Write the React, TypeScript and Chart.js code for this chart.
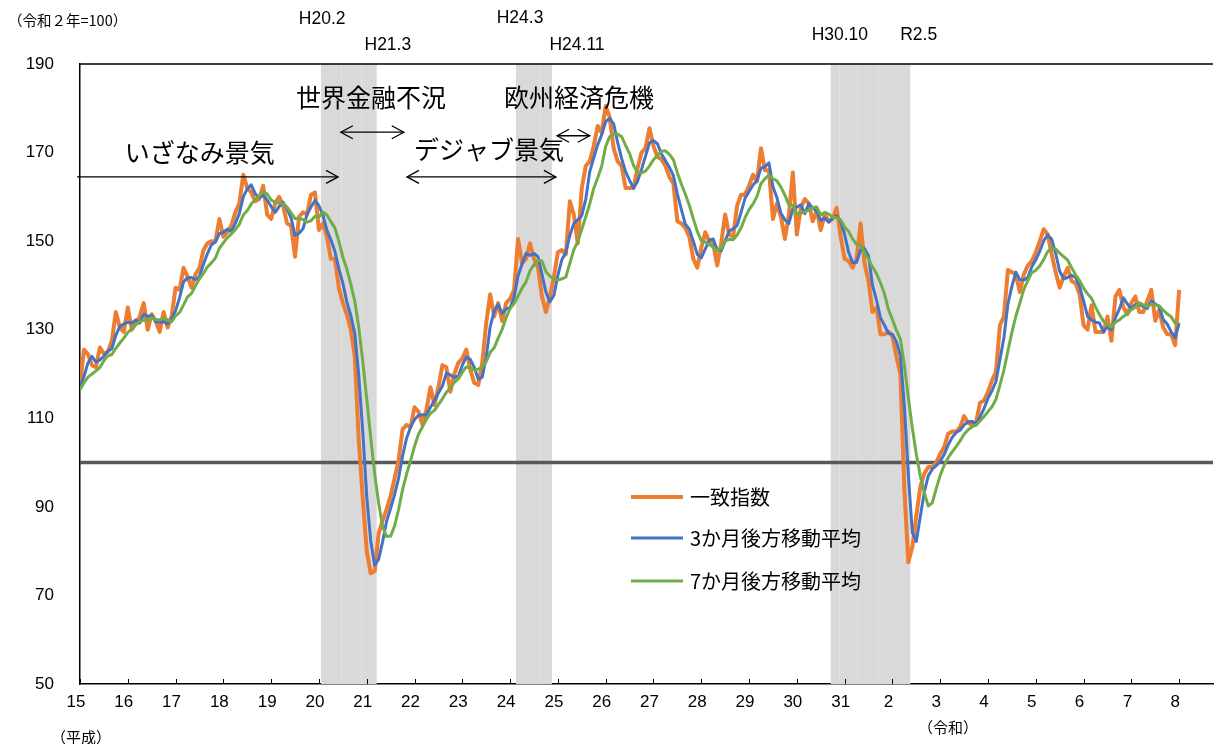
import React, { useEffect, useRef } from "react";
import { Chart, registerables } from "chart.js";

Chart.register(...registerables);

// Monthly data, index 0 = 平成15年1月 (2003-01) ... 276 = 令和8年1月
const ci: number[] = [
  117.5, 125.5, 124.5, 122, 121.5, 126, 124.5, 125, 127.5, 134, 130.5, 129.5,
  135, 130, 131.5, 133, 136, 130, 133.5, 132, 129.5, 134, 130.5, 133,
  139.5, 139, 144, 142, 139.5, 142.5, 144, 148, 149.5, 150, 150, 155,
  151, 152, 153.5, 156.5, 158.5, 165, 162, 161, 159, 159.5, 162.5, 156,
  155, 158.5, 160, 158, 154, 153.5, 146.5, 155.5, 156.5, 156, 160.5, 161,
  152.5, 154, 151, 146, 146, 139.5, 136, 133.5, 130, 124, 105, 92,
  80, 75, 75.5, 84, 87, 89.5, 92.5, 96.5, 100.5, 107.5, 108.5, 108,
  112.5, 111.5, 108.5, 112, 117, 113, 117, 122, 121.5, 116, 120, 122.5,
  123.5, 125.5, 121, 118, 117.5, 122.5, 131.5, 138, 133, 136, 132, 136,
  137, 139, 150.5, 145, 146, 149.5, 146, 144, 137.5, 134, 137.5, 142,
  147.5, 148, 147, 159, 156, 149.5, 162, 167, 168, 171.5, 176, 174.5,
  180.5, 178, 171, 168, 167, 162, 162, 162, 166.5, 170, 171, 175.5,
  171.5, 169, 168.5, 167, 164.5, 163, 154.5, 154, 153, 151, 146, 144,
  148.5, 152, 150, 149.5, 144.5, 149.5, 156, 151.5, 151, 158, 160.5, 160.5,
  162.5, 165, 163.5, 171, 166, 166, 155, 158.5, 155.5, 150.5, 156, 165.5,
  151.5, 157.5, 159.5, 158.5, 154.5, 157, 152.5, 156, 154.5, 155, 157.5, 151,
  146, 145.5, 144, 146, 154, 145, 141, 134, 135, 129, 129, 129.5,
  128.5, 124, 120, 94, 77.5, 81, 88, 94.5, 97.5, 99, 99, 100,
  102, 103.5, 106.5, 107, 107, 108, 110.5, 109, 108.5, 109, 113.5, 114,
  116, 118.5, 120.5, 131, 133, 143.5, 143, 142.5, 138.5, 142.5, 144.5, 145.5,
  147.5, 150, 152.7, 151.5, 147, 143, 139.5, 142, 144, 141, 140.5, 138,
  131, 130, 135.5, 129.5, 129.5, 129.5, 133, 127.5, 137.5, 139, 135, 133.5,
  136, 137.5, 134, 134, 136.5, 139, 132, 134.5, 130.5, 129, 129, 126.5,
  139,
];

const ma3: number[] = [
  117, 119.5, 122.5, 124, 122.7, 123.2, 124, 125.2, 125.7, 128.8, 130.7, 131.3,
  131.7, 131.5, 132.2, 131.5, 133.5, 133, 133.2, 131.8, 131.7, 131.8, 131.3, 132.5,
  134.3, 137.2, 140.8, 141.7, 141.8, 141.3, 142, 144.8, 147.2, 149.2, 149.8, 151.7,
  152, 152.7, 152.2, 154, 156.2, 160, 161.8, 162.7, 160.7, 159.8, 160.3, 159.3,
  157.8, 156.5, 157.8, 158.8, 157.3, 155.2, 151.3, 151.8, 152.8, 156, 157.7, 159.2,
  158, 155.8, 152.5, 150.3, 147.7, 143.8, 140.5, 136.3, 133.2, 129.2, 119.7, 107,
  92.3, 82.3, 76.8, 78.2, 82.2, 86.8, 89.7, 92.8, 96.5, 101.5, 105.5, 108,
  109.7, 110.7, 110.8, 110.7, 112.5, 114, 115.7, 117.3, 120.2, 119.8, 119.2, 119.5,
  122, 123.8, 123.3, 121.5, 118.8, 119.3, 123.8, 130.7, 134.2, 135.7, 133.7, 134.7,
  135, 137.3, 142.2, 144.8, 147.2, 146.8, 147.2, 146.5, 142.5, 138.5, 136.3, 137.8,
  142.3, 145.8, 147.5, 151.3, 154, 154.8, 155.8, 159.5, 165.7, 168.8, 171.8, 174,
  177, 177.7, 176.5, 172.3, 168.7, 165.7, 163.7, 162, 163.5, 166.2, 169.2, 172.2,
  172.7, 172, 169.7, 168.2, 166.7, 164.8, 160.7, 157.2, 153.8, 152.7, 150, 147,
  146.2, 148.2, 150.2, 150.5, 148, 147.8, 150, 152.3, 152.8, 153.5, 156.5, 159.7,
  161.2, 162.7, 163.7, 166.5, 166.8, 167.7, 162.3, 159.8, 156.3, 154.8, 154, 157.3,
  157.7, 158.2, 156.2, 158.5, 157.5, 156.7, 154.7, 155.2, 154.3, 155.2, 155.7, 154.5,
  151.5, 147.5, 145.2, 145.2, 148, 148.3, 146.7, 140, 136.7, 132.7, 131, 129.2,
  129, 127.3, 124.2, 112.7, 97.2, 84.2, 82.2, 87.8, 93.3, 97, 98.5, 99.3,
  100.3, 101.8, 104, 105.7, 106.8, 107.3, 108.5, 109.2, 109.3, 108.8, 110.3, 112.2,
  114.5, 116.2, 118.3, 123.3, 128.2, 135.8, 139.8, 143, 141.3, 141.2, 141.8, 144.2,
  145.8, 147.7, 150.1, 151.4, 150.4, 147.2, 143.2, 141.5, 141.8, 142.3, 141.8, 139.8,
  136.5, 133, 132.2, 131.7, 131.5, 129.5, 130.7, 130, 132.7, 134.7, 137.2, 135.8,
  134.8, 135.7, 135.8, 135.2, 134.8, 136.5, 135.8, 135.2, 132.3, 131.3, 129.5, 128.2,
  131.5,
];

const ma7: number[] = [
  116.5, 118, 119.3, 120, 120.7, 121.5, 123, 124.1, 124.4, 125.8, 127, 128.1,
  129.4, 130.2, 131.1, 131.9, 132.2, 132.1, 132.7, 132.3, 132.2, 132.6, 132.2, 131.8,
  133.1, 133.9, 135.6, 137.4, 138.2, 139.9, 141.5, 142.7, 144.2, 145.1, 146.2, 148.4,
  149.6, 150.8, 151.6, 152.6, 153.8, 155.9, 156.9, 158.4, 159.4, 160.2, 161.1, 160.7,
  159.3, 158.8, 158.6, 158.5, 157.7, 156.4, 155.1, 155.1, 154.9, 154.3, 154.6, 155.6,
  155.5, 156.6, 155.9, 154.4, 153, 150, 146.4, 143.7, 140.3, 136.4, 130.6, 122.9,
  114.4, 105.6, 97.4, 90.8, 85.5, 83.3, 83.4, 85.7, 89.4, 93.9, 97.4, 100.4,
  103.7, 106.4, 108.1, 109.8, 111.1, 111.8, 113.1, 114.4, 115.9, 116.9, 118.1, 118.9,
  120.4, 121.6, 121.4, 120.9, 121.1, 121.5, 122.8, 124.9, 125.9, 128.1, 130.1, 132.7,
  134.8, 135.9, 137.6, 139.4, 140.8, 143.3, 144.7, 145.7, 145.5, 143.1, 142.1, 141.5,
  141.2, 141.5, 141.9, 145, 148.1, 149.9, 152.7, 155.5, 158.4, 161.9, 164.3, 166.9,
  171.4, 173.6, 174.2, 174.2, 173.6, 171.6, 169.8, 167.1, 165.5, 165.4, 165.8, 167,
  168.4, 169.4, 170.3, 170.4, 169.6, 168.4, 165.4, 162.9, 160.6, 158.1, 155.1, 152.2,
  150.1, 149.8, 149.2, 148.7, 147.8, 148.3, 150, 150.4, 150.3, 151.4, 153, 155.3,
  157.1, 158.4, 160.1, 163, 164.1, 164.9, 164.1, 163.6, 162.2, 160.4, 158.2, 158.1,
  156.1, 156.4, 156.6, 157, 157.6, 157.7, 155.9, 156.5, 156.1, 155.4, 155.3, 154.8,
  153.2, 152.2, 150.5, 149.3, 149.1, 147.4, 145.9, 144.2, 142.7, 140.6, 138.1, 134.6,
  132.3, 129.9, 127.9, 122, 114.6, 107.8, 101.9, 97, 93.2, 90.2, 90.9, 94.1,
  97.1, 99.4, 101.1, 102.4, 103.6, 104.9, 106.4, 107.4, 108.1, 108.4, 109.4, 110.4,
  111.5, 112.6, 114.3, 117.5, 120.9, 125.2, 129.4, 133.1, 136, 139.1, 141.1, 142.9,
  143.4, 144.4, 145.9, 147.7, 148.4, 148.2, 147.3, 146.5, 145.7, 144, 142.4, 141.1,
  139.4, 138.1, 137.1, 135.1, 133.4, 131.9, 131.1, 130.6, 131.7, 132.2, 133, 133.6,
  134.5, 135.1, 136.1, 135.6, 135.2, 135.8, 135.6, 135.4, 134.4, 133.6, 132.9, 131.5,
  131.5,
];

const seriesNames = ["一致指数", "3か月後方移動平均", "7か月後方移動平均"];
const seriesColors = ["#ED7D31", "#4472C4", "#70AD47"];

// x tick labels (each January)
const yearTickMonths: number[] = Array.from({ length: 24 }, (_, i) => i * 12);
const yearLabels: string[] = [
  "15", "16", "17", "18", "19", "20", "21", "22", "23", "24", "25", "26",
  "27", "28", "29", "30", "31", "2", "3", "4", "5", "6", "7", "8",
];
const yTicks: number[] = [50, 70, 90, 110, 130, 150, 170, 190];

// recession shading (month index of start/end)
const bandStart: number[] = [61, 110, 189];
const bandEnd: number[] = [74, 118, 208];
const bandInnerLines: number[] = [65.5, 70.5, 115.5, 190.6, 195.2, 200.5];

// labels above the chart: text, month, pixel y
const topLabelText: string[] = ["H20.2", "H21.3", "H24.3", "H24.11", "H30.10", "R2.5"];
const topLabelMonth: number[] = [60.8, 77.3, 110.5, 124.8, 190.8, 210.6];
const topLabelY: number[] = [19, 45, 18, 45, 35, 35];

// economic periods: name, text position (month, value), arrow (from, to, value, double)
const periodNames: string[] = ["いざなみ景気", "世界金融不況", "デジャブ景気", "欧州経済危機"];
const periodTextM: number[] = [30.1, 73.1, 102.7, 125.3];
const periodTextV: number[] = [170.1, 182.5, 170.6, 182.5];
const arrowFrom: number[] = [-0.75, 65.5, 82.1, 119.8];
const arrowTo: number[] = [64.8, 81.3, 119.5, 128];
const arrowV: number[] = [164.5, 174.6, 164.5, 173.8];
const arrowDouble: boolean[] = [false, true, true, true];

const NUM_FONT = "'Liberation Sans', Arial, sans-serif";
const JP_FONT = "'Noto Sans CJK JP', sans-serif";

function drawHead(ctx: CanvasRenderingContext2D, tipX: number, y: number, dir: number) {
  ctx.beginPath();
  ctx.moveTo(tipX - dir * 12, y - 6.5);
  ctx.lineTo(tipX, y);
  ctx.lineTo(tipX - dir * 12, y + 6.5);
  ctx.stroke();
}

const decorPlugin = {
  id: "decor",
  beforeDatasetsDraw(chart: any) {
    const { ctx, chartArea, scales } = chart;
    const x = scales.x;
    const y = scales.y;
    ctx.save();
    ctx.fillStyle = "#d9d9d9";
    bandStart.forEach((s, i) => {
      const x0 = x.getPixelForValue(s - 0.5);
      const x1 = x.getPixelForValue(bandEnd[i] + 0.5);
      ctx.fillRect(x0, chartArea.top, x1 - x0, chartArea.bottom - chartArea.top);
    });
    ctx.strokeStyle = "#e1e1e1";
    ctx.lineWidth = 1;
    bandInnerLines.forEach((m) => {
      const px = Math.round(x.getPixelForValue(m)) + 0.5;
      ctx.beginPath();
      ctx.moveTo(px, chartArea.top);
      ctx.lineTo(px, chartArea.bottom);
      ctx.stroke();
    });
    // 100 reference line
    const y100 = y.getPixelForValue(100);
    ctx.strokeStyle = "#595959";
    ctx.lineWidth = 3.5;
    ctx.beginPath();
    ctx.moveTo(chartArea.left, y100);
    ctx.lineTo(chartArea.right, y100);
    ctx.stroke();
    ctx.restore();
  },
  afterDraw(chart: any) {
    const { ctx, chartArea, scales } = chart;
    const x = scales.x;
    const y = scales.y;
    ctx.save();
    // top border
    ctx.strokeStyle = "#000";
    ctx.lineWidth = 1.5;
    ctx.beginPath();
    ctx.moveTo(chartArea.left, chartArea.top);
    ctx.lineTo(chartArea.right, chartArea.top);
    ctx.stroke();
    // inner tick marks on the x axis
    ctx.lineWidth = 1;
    yearTickMonths.forEach((m) => {
      const px = Math.round(x.getPixelForValue(m)) + 0.5;
      ctx.beginPath();
      ctx.moveTo(px, chartArea.bottom);
      ctx.lineTo(px, chartArea.bottom - 5);
      ctx.stroke();
    });
    // arrows
    ctx.lineWidth = 1.3;
    ctx.strokeStyle = "#000";
    arrowFrom.forEach((f, i) => {
      const x0 = x.getPixelForValue(f);
      const x1 = x.getPixelForValue(arrowTo[i]);
      const py = y.getPixelForValue(arrowV[i]);
      ctx.beginPath();
      ctx.moveTo(x0, py);
      ctx.lineTo(x1, py);
      ctx.stroke();
      drawHead(ctx, x1, py, 1);
      if (arrowDouble[i]) drawHead(ctx, x0, py, -1);
    });
    // period names
    ctx.fillStyle = "#000";
    ctx.textAlign = "center";
    ctx.textBaseline = "middle";
    ctx.font = `25px ${JP_FONT}`;
    periodNames.forEach((t, i) => {
      ctx.fillText(t, x.getPixelForValue(periodTextM[i]), y.getPixelForValue(periodTextV[i]));
    });
    // labels above
    ctx.font = `17.5px ${NUM_FONT}`;
    topLabelText.forEach((t, i) => {
      ctx.fillText(t, x.getPixelForValue(topLabelMonth[i]), topLabelY[i]);
    });
    // unit and era labels
    ctx.textAlign = "left";
    ctx.font = `14.5px ${JP_FONT}`;
    ctx.fillText("（令和２年=100）", 8, 20);
    ctx.font = `15px ${JP_FONT}`;
    ctx.fillText("（平成）", 51, 737);
    ctx.fillText("（令和）", 918, 727);
    // legend
    const legendX = 631;
    const legendY = [497, 538, 581];
    const widths = [4, 3, 3];
    ctx.font = `20px ${JP_FONT}`;
    seriesNames.forEach((n, i) => {
      ctx.strokeStyle = seriesColors[i];
      ctx.lineWidth = widths[i];
      ctx.beginPath();
      ctx.moveTo(legendX, legendY[i]);
      ctx.lineTo(legendX + 52, legendY[i]);
      ctx.stroke();
      ctx.fillStyle = "#000";
      ctx.fillText(n, legendX + 59, legendY[i]);
    });
    ctx.restore();
  },
};

export default function App() {
  const ref = useRef<HTMLCanvasElement | null>(null);
  useEffect(() => {
    document.body.style.margin = "0";
    const canvas = ref.current;
    if (!canvas) return;
    const series = [ci, ma3, ma7];
    const chart = new Chart(canvas, {
      type: "line",
      data: {
        datasets: series.map((arr, i) => ({
          label: seriesNames[i],
          data: arr.map((v, m) => ({ x: m, y: v })),
          borderColor: seriesColors[i],
          backgroundColor: seriesColors[i],
          borderWidth: i === 0 ? 4 : 3,
          pointRadius: 0,
          tension: 0,
          borderJoinStyle: "round" as const,
          order: 3 - i,
        })),
      },
      options: {
        responsive: false,
        animation: false,
        devicePixelRatio: 1,
        layout: { padding: { top: 64, right: 2, left: 0, bottom: 0 } },
        plugins: {
          legend: { display: false },
          tooltip: { enabled: false },
        },
        scales: {
          x: {
            type: "linear",
            min: 0,
            max: 284.5,
            grid: { display: false, drawTicks: false },
            border: { display: true, color: "#000", width: 1.5 },
            afterBuildTicks: (s: any) => {
              s.ticks = yearTickMonths.map((v) => ({ value: v }));
            },
            afterFit: (s: any) => {
              s.height = 60;
            },
            ticks: {
              autoSkip: false,
              maxRotation: 0,
              padding: 8,
              labelOffset: -4,
              color: "#000",
              font: { size: 17, family: NUM_FONT },
              callback: (v: any) => {
                const idx = yearTickMonths.indexOf(Number(v));
                return idx >= 0 ? yearLabels[idx] : "";
              },
            },
          },
          y: {
            type: "linear",
            min: 50,
            max: 190,
            grid: { display: false, drawTicks: false },
            border: { display: true, color: "#000", width: 1.5 },
            afterBuildTicks: (s: any) => {
              s.ticks = yTicks.map((v) => ({ value: v }));
            },
            afterFit: (s: any) => {
              s.width = 80;
            },
            ticks: {
              padding: 26,
              color: "#000",
              font: { size: 17, family: NUM_FONT },
            },
          },
        },
      },
      plugins: [decorPlugin],
    });
    return () => chart.destroy();
  }, []);
  return (
    <div style={{ width: 1215, height: 744 }}>
      <canvas ref={ref} width={1215} height={744} style={{ display: "block" }} />
    </div>
  );
}
